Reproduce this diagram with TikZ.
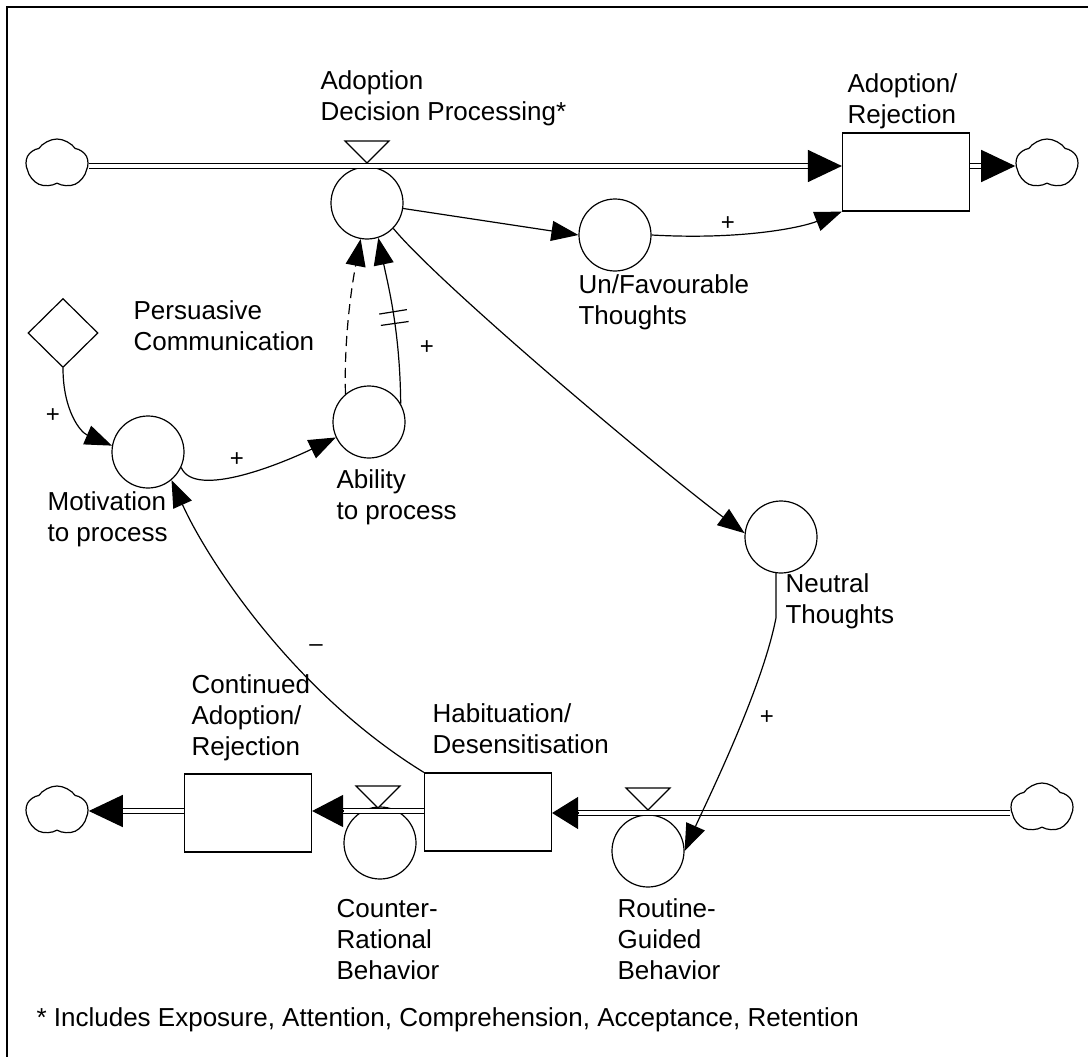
\documentclass[tikz,border=0pt]{standalone}
\usepackage{fontspec}
\setmainfont{Liberation Sans}
\usetikzlibrary{arrows.meta,calc,shapes.geometric,shapes.symbols,decorations.markings}

\begin{document}
\begin{tikzpicture}[x=1pt,y=-1pt,line width=1.2pt,
                    conv/.style={circle, draw, minimum size=72pt, inner sep=0pt},
                    stock/.style={rectangle, draw, minimum width=127pt, minimum height=78pt, inner sep=0pt},
                    source/.style={cloud, cloud puffs=5, cloud puff arc=110, aspect=1.25, draw, minimum width=62pt, minimum height=50pt, inner sep=0pt},
                    lbl/.style={anchor=north west, inner sep=0pt, align=left, font=\fontsize{26}{31}\selectfont},
                    sgn/.style={inner sep=0pt, font=\fontsize{24}{24}\selectfont},
                    pipe/.style={double, double distance=3.5pt, line width=1.2pt},
                    pipehead/.style={-{Triangle[length=#1,width=32pt]}},
                    pipehead/.default=34pt,
                    link/.style={-{Triangle[length=27pt,width=20pt]}},
                    valvetri/.style={draw, fill=white, line width=1.2pt}]
                    \useasboundingbox (0,0) rectangle (1088,1057);
                    \draw[line width=2pt] (7,1057) -- (7,7) -- (1088,7);

                    \node[source] (cloudA) at (57,164) {};
                    \node[source] (cloudB) at (1047,164) {};
                    \node[source] (cloudC) at (57,811) {};
                    \node[source] (cloudD) at (1042,808) {};

                    \node[stock] (stockAR) at (906,172) {};
                    \node[stock] (stockHD) at (488,812) {};
                    \node[stock] (stockCAR) at (248,813) {};

                    \node[conv] (rateADP) at (367,203) {};
                    \node[conv] (rateCRB) at (380,843) {};
                    \node[conv] (rateRGB) at (648,851) {};
                    \node[conv] (auxUFT) at (615,235) {};
                    \node[conv] (auxMTP) at (148,452) {};
                    \node[conv] (auxAtP) at (369,422) {};
                    \node[conv] (auxNT) at (781,537) {};
                    \node[diamond, draw, minimum width=70pt, minimum height=69pt, inner sep=0pt] (constPC) at (63,333) {};

                    \coordinate (valveADP) at (367,166);
                    \coordinate (valveCRB) at (378,811);
                    \coordinate (valveRGB) at (648,813);

                    \draw[pipe] (cloudA.east |- valveADP) -- ($(stockAR.west |- valveADP)+(-34,0)$);
                    \draw[pipehead] ($(stockAR.west |- valveADP)+(-34,0)$) -- (stockAR.west |- valveADP);
                    \draw[pipe] (stockAR.east |- valveADP) -- ($(cloudB.west |- valveADP)+(-34,0)$);
                    \draw[pipehead] ($(cloudB.west |- valveADP)+(-34,0)$) -- (cloudB.west |- valveADP);
                    \draw[pipe] (cloudD.west |- valveRGB) -- ($(stockHD.east |- valveRGB)+(26,0)$);
                    \draw[pipehead=26pt] ($(stockHD.east |- valveRGB)+(26,0)$) -- (stockHD.east |- valveRGB);
                    \draw[pipe] (stockHD.west |- valveCRB) -- ($(stockCAR.east |- valveCRB)+(31,0)$);
                    \draw[pipehead=31pt] ($(stockCAR.east |- valveCRB)+(31,0)$) -- (stockCAR.east |- valveCRB);
                    \draw[pipe] (stockCAR.west |- valveCRB) -- ($(cloudC.east |- valveCRB)+(34,0)$);
                    \draw[pipehead] ($(cloudC.east |- valveCRB)+(34,0)$) -- (cloudC.east |- valveCRB);

                    \draw[valvetri] (valveADP) ++(0,-3) -- ++(-22,-22) -- ++(44,0) -- cycle;
                    \draw[valvetri] (valveCRB) ++(0,-3) -- ++(-22,-22) -- ++(44,0) -- cycle;
                    \draw[valvetri] (valveRGB) ++(0,-3) -- ++(-22,-22) -- ++(44,0) -- cycle;

                    \draw[link] (rateADP) -- (auxUFT.west);
                    \draw[link] (auxUFT.east) .. controls (740,240) and (800,228) .. (stockAR.south west);
                    \draw[link] (constPC.south) .. controls (63,410) and (80,432) .. (auxMTP.170);
                    \draw[link] (auxMTP.-25) .. controls (195,500) and (285,462) .. (auxAtP.205);
                    \draw[link, dash pattern=on 10pt off 6pt] (auxAtP.130) .. controls (344,340) and (351,290) .. (rateADP.-100);
                    \draw[link, postaction={decorate, decoration={markings,
                            mark=at position 0.48 with {\draw[-] (0pt,-14pt) -- (0pt,14pt);},
                            mark=at position 0.55 with {\draw[-] (0pt,-14pt) -- (0pt,14pt);}}}]
                        (auxAtP.30) .. controls (400,330) and (388,285) .. (rateADP.-72);
                    \draw[link] (rateADP.-44) .. controls (440,285) and (660,470) .. (auxNT.174);
                    \draw[link] (auxNT.-98) -- ++(0,45) .. controls (762,690) and (705,805) .. (rateRGB.east);
                    \draw[link] (stockHD.north west) .. controls (290,690) and (205,555) .. (auxMTP.-50);

                    \node[sgn] (sgnPC) at (53,416) {+};
                    \node[sgn] (sgnMTP) at (237,460) {+};
                    \node[sgn] (sgnAtP) at (427,348) {+};
                    \node[sgn] (sgnUFT) at (728,224) {+};
                    \node[sgn] (sgnNT) at (767,718) {+};
                    \node[sgn] (sgnHD) at (316,648) {--};

                    \node[lbl] (lblADP) at (320,70) {Adoption\\Decision Processing*};
                    \node[lbl] (lblAR) at (847,73) {Adoption/\\Rejection};
                    \node[lbl] (lblUFT) at (578,274) {Un/Favourable\\Thoughts};
                    \node[lbl] (lblPC) at (133,300) {Persuasive\\Communication};
                    \node[lbl] (lblMTP) at (47,491) {Motivation\\to process};
                    \node[lbl] (lblAtP) at (336,469) {Ability\\to process};
                    \node[lbl] (lblNT) at (785,573) {Neutral\\Thoughts};
                    \node[lbl] (lblCAR) at (191,674) {Continued\\Adoption/\\Rejection};
                    \node[lbl] (lblHD) at (432,703) {Habituation/\\Desensitisation};
                    \node[lbl] (lblCRB) at (336,899) {Counter-\\Rational\\Behavior};
                    \node[lbl] (lblRGB) at (617,898) {Routine-\\Guided\\Behavior};
                    \node[lbl] (lblNote) at (36,1007) {* Includes Exposure, Attention, Comprehension, Acceptance, Retention};
                \end{tikzpicture}
\end{document}
